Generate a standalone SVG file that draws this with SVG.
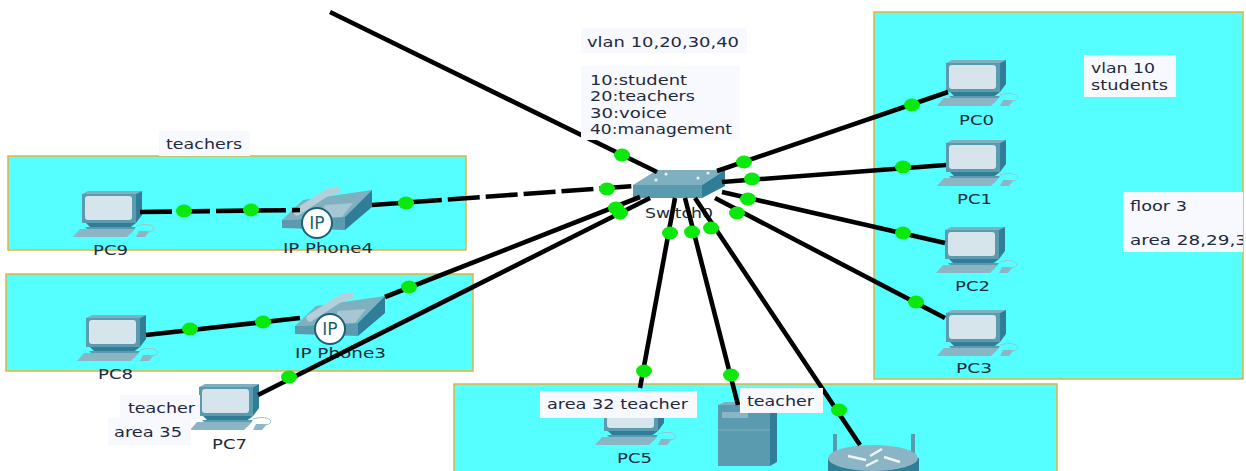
<svg xmlns="http://www.w3.org/2000/svg" width="1246" height="471" viewBox="0 0 1246 471">
<style>
text{font-family:"DejaVu Sans","Liberation Sans",sans-serif;font-size:14px;fill:#1f2a3c}
.reg{fill:#55ffff;stroke:#e8b13a;stroke-width:1.5}
.lab{fill:#f8f8ff}
.ln{stroke:#000;stroke-width:4.6;fill:none}
.d{stroke-dasharray:32 6}
.dot{fill:#0be80b}
.top{fill:#7fb0c0}.fr{fill:#5b9bb0}.sd{fill:#2f7d96}.pale{fill:#d6e4ec}.mid{fill:#8bb5c4}
</style>
<defs>
<clipPath id="edge"><rect x="0" y="0" width="1243" height="471"/></clipPath>
<g id="pc">
<path class="top" d="M0 3L6 0H60L54 3Z"/>
<path class="sd" d="M54 3L60 0V24L54 32Z"/>
<rect class="fr" x="0" y="3" width="54" height="29"/>
<rect class="pale" x="3" y="5" width="47" height="24" rx="3"/>
<path class="sd" d="M4 32H54L46 38H10Z"/>
<path class="fr" d="M3 36H54L48 43H10Z"/>
<path class="mid" d="M-2 38H53L45 46H-9Z"/>
<path class="mid" d="M57 40H68L63 46H54Z"/>
<path d="M54 35Q68 31 72 37Q72 41 64 41" fill="none" stroke="#9cc2cf" stroke-width="1"/>
</g>
<g id="phone">
<path class="top" d="M0 35L21 15L90 5L63 32Z"/>
<path class="sd" d="M90 5V22L63 45V32Z"/>
<path class="fr" d="M0 35L63 32V45L0 43Z"/>
<path d="M15 27L46 7L55 5" fill="none" stroke="#b3d0da" stroke-width="7" stroke-linecap="round" stroke-linejoin="round"/>
<path fill="#a5c6d2" d="M43 20L71 18L60 32L38 32Z"/>
<circle cx="35" cy="38" r="15" fill="#fff" stroke="#1d5f75" stroke-width="2"/>
<text x="35" y="44" text-anchor="middle" style="font-size:17px;fill:#1d5f75">IP</text>
</g>
</defs>

<g id="regions">
<rect class="reg" x="8" y="156" width="458" height="94"/>
<rect class="reg" x="6" y="274" width="467" height="97"/>
<rect class="reg" x="454" y="384" width="603" height="92"/>
<rect class="reg" x="874" y="12" width="369" height="367"/>
</g>

<g id="PC0"><use href="#pc" x="946" y="60"/><text x="959" y="125" textLength="35" lengthAdjust="spacingAndGlyphs">PC0</text></g>
<g id="PC1"><use href="#pc" x="946" y="140"/><text x="957" y="204" textLength="35" lengthAdjust="spacingAndGlyphs">PC1</text></g>
<g id="PC2"><use href="#pc" x="945" y="227"/><text x="955" y="291" textLength="35" lengthAdjust="spacingAndGlyphs">PC2</text></g>
<g id="PC3"><use href="#pc" x="946" y="310"/><text x="956" y="373" textLength="36" lengthAdjust="spacingAndGlyphs">PC3</text></g>
<g id="PC9"><use href="#pc" x="82" y="191"/><text x="93" y="255" textLength="35" lengthAdjust="spacingAndGlyphs">PC9</text></g>
<g id="PC8"><use href="#pc" x="86" y="315"/><text x="98" y="379" textLength="35" lengthAdjust="spacingAndGlyphs">PC8</text></g>
<g id="PC7"><use href="#pc" x="199" y="384"/><text x="212" y="449" textLength="35" lengthAdjust="spacingAndGlyphs">PC7</text></g>
<g id="PC5"><use href="#pc" x="604" y="399"/><text x="617" y="463" textLength="35" lengthAdjust="spacingAndGlyphs">PC5</text></g>
<g id="IP-Phone4"><use href="#phone" x="282" y="185"/><text x="283" y="253" textLength="90" lengthAdjust="spacingAndGlyphs">IP Phone4</text></g>
<g id="IP-Phone3"><use href="#phone" x="295" y="291"/><text x="295" y="358" textLength="91" lengthAdjust="spacingAndGlyphs">IP Phone3</text></g>
<g id="Switch0">
<path class="top" d="M633 185L657 170H725L702 185Z"/>
<path class="fr" d="M633 185H702V198H633Z"/>
<path class="sd" d="M702 185L725 170V186L702 198Z"/>
<g fill="#e8f2f5"><circle cx="666" cy="174" r="1.6"/><circle cx="708" cy="173" r="1.6"/><circle cx="656" cy="180" r="1.6"/><circle cx="698" cy="178" r="1.6"/></g>
<text x="645" y="218" textLength="68" lengthAdjust="spacingAndGlyphs">Switch0</text>
</g>
<g id="Server">
<path class="top" d="M718 405L725 402H777L770 405Z"/>
<rect class="fr" x="718" y="405" width="52" height="61"/>
<path class="sd" d="M770 405L777 402V462L770 466Z"/>
<rect class="mid" x="722" y="412" width="26" height="6"/>
<path d="M718 430H770" stroke="#7fb0c0" stroke-width="1"/>
</g>
<g id="Router">
<rect class="fr" x="833" y="434" width="4" height="20"/>
<rect class="fr" x="911" y="434" width="4" height="20"/>
<path class="sd" d="M828 458V476H919V458Z"/>
<ellipse class="mid" cx="873" cy="458" rx="45" ry="13"/>
<path d="M848 456L866 460M882 449L870 456M884 457L900 462M866 466L878 460" stroke="#eef5f7" stroke-width="2.5" fill="none"/>
</g>

<g id="connectors">
<path class="ln" d="M330 12L657 172"/>
<path class="ln" d="M717 171L948 92"/>
<path class="ln" d="M722 182L946 165"/>
<path class="ln" d="M722 192L945 243"/>
<path class="ln" d="M715 198L945 318"/>
<path class="ln d" d="M372 205L634 186"/>
<path class="ln d" d="M140 212L300 210"/>
<path class="ln" d="M385 297L640 197"/>
<path class="ln" d="M146 335L300 318"/>
<path class="ln" d="M258 395L650 198"/>
<path class="ln" d="M640 388L675 198"/>
<path class="ln" d="M738 405L685 198"/>
<path class="ln" d="M860 445L695 198"/>
<g class="dot">
<ellipse cx="622" cy="155" rx="8" ry="6.5"/>
<ellipse cx="744" cy="162" rx="8" ry="6.5"/><ellipse cx="912" cy="105" rx="8" ry="6.5"/>
<ellipse cx="752" cy="179" rx="8" ry="6.5"/><ellipse cx="903" cy="167" rx="8" ry="6.5"/>
<ellipse cx="748" cy="199" rx="8" ry="6.5"/><ellipse cx="903" cy="233" rx="8" ry="6.5"/>
<ellipse cx="737" cy="213" rx="8" ry="6.5"/><ellipse cx="916" cy="302" rx="8" ry="6.5"/>
<ellipse cx="406" cy="203" rx="8" ry="6.5"/><ellipse cx="607" cy="189" rx="8" ry="6.5"/>
<ellipse cx="184" cy="211" rx="8" ry="6.5"/><ellipse cx="251" cy="210" rx="8" ry="6.5"/>
<ellipse cx="409" cy="287" rx="8" ry="6.5"/><ellipse cx="616" cy="208" rx="8" ry="6.5"/>
<ellipse cx="190" cy="329" rx="8" ry="6.5"/><ellipse cx="263" cy="322" rx="8" ry="6.5"/>
<ellipse cx="289" cy="377" rx="8" ry="6.5"/><ellipse cx="620" cy="213" rx="8" ry="6.5"/>
<ellipse cx="644" cy="371" rx="8" ry="6.5"/><ellipse cx="670" cy="233" rx="8" ry="6.5"/>
<ellipse cx="731" cy="375" rx="8" ry="6.5"/><ellipse cx="692" cy="232" rx="8" ry="6.5"/>
<ellipse cx="839" cy="410" rx="8" ry="6.5"/><ellipse cx="711" cy="228" rx="8" ry="6.5"/>
</g>
</g>

<g id="labels">
<rect class="lab" x="581" y="28" width="166" height="25"/>
<text x="587" y="47" textLength="152" lengthAdjust="spacingAndGlyphs">vlan 10,20,30,40</text>
<rect class="lab" x="581" y="66" width="159" height="74"/>
<text x="590" y="85" textLength="97" lengthAdjust="spacingAndGlyphs">10:student</text>
<text x="590" y="101" textLength="105" lengthAdjust="spacingAndGlyphs">20:teachers</text>
<text x="590" y="118" textLength="77" lengthAdjust="spacingAndGlyphs">30:voice</text>
<text x="590" y="134" textLength="142" lengthAdjust="spacingAndGlyphs">40:management</text>
<rect class="lab" x="159" y="131" width="91" height="25"/>
<text x="166" y="149" textLength="76" lengthAdjust="spacingAndGlyphs">teachers</text>
<rect class="lab" x="1084" y="55" width="92" height="42"/>
<text x="1091" y="73" textLength="64" lengthAdjust="spacingAndGlyphs">vlan 10</text>
<text x="1091" y="90" textLength="77" lengthAdjust="spacingAndGlyphs">students</text>
<rect class="lab" x="1123" y="192" width="120" height="60"/>
<text x="1130" y="211" textLength="57" lengthAdjust="spacingAndGlyphs">floor 3</text>
<text x="1130" y="245" textLength="117" lengthAdjust="spacingAndGlyphs" clip-path="url(#edge)">area 28,29,3</text>
<rect class="lab" x="540" y="391" width="157" height="27"/>
<text x="547" y="409" textLength="141" lengthAdjust="spacingAndGlyphs">area 32 teacher</text>
<rect class="lab" x="740" y="388" width="83" height="25"/>
<text x="747" y="406" textLength="67" lengthAdjust="spacingAndGlyphs">teacher</text>
<rect class="lab" x="120" y="395" width="80" height="24"/>
<text x="128" y="413" textLength="67" lengthAdjust="spacingAndGlyphs">teacher</text>
<rect class="lab" x="108" y="418" width="83" height="27"/>
<text x="114" y="437" textLength="68" lengthAdjust="spacingAndGlyphs">area 35</text>
</g>
</svg>
